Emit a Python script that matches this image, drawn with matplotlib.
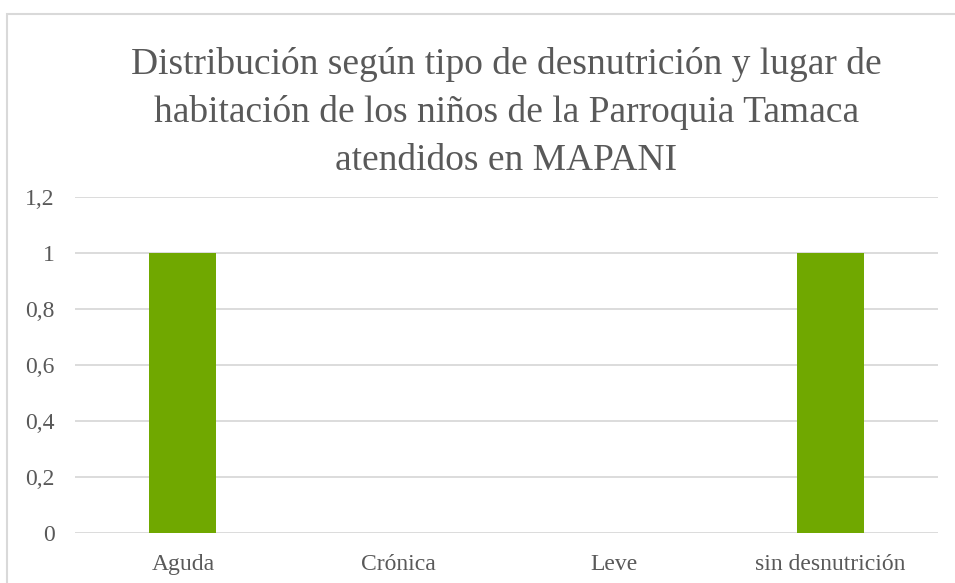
import matplotlib
matplotlib.use("Agg")
import matplotlib.pyplot as plt
from matplotlib.patches import Rectangle

categories = ["Aguda", "Crónica", "Leve", "sin desnutrición"]
values = [1, 0, 0, 1]
yticks = [0, 0.2, 0.4, 0.6, 0.8, 1.0, 1.2]
ytick_labels = ["0", "0,2", "0,4", "0,6", "0,8", "1", "1,2"]
title = ("Distribución según tipo de desnutrición y lugar de\n"
         "habitación de los niños de la Parroquia Tamaca\n"
         "atendidos en MAPANI")

plt.rcParams['font.family'] = ['Liberation Serif', 'DejaVu Serif']
W, H = 955, 583
fig = plt.figure(figsize=(W/100, H/100), dpi=100)

# outer chart border (top and left visible)
fig.add_artist(Rectangle((7/W, 0 - 0.01), 1.2, (H - 14)/H + 0.01, transform=fig.transFigure,
                         fill=False, edgecolor="#d9d9d9", linewidth=1.5))

ax = fig.add_axes([75/W, 1 - 533/H, (938-75)/W, (533-197)/H])
x = range(len(categories))
ax.bar(x, values, width=0.31, color="#70a800", zorder=3)
ax.set_xlim(-0.5, len(categories) - 0.5)
ax.set_ylim(0, 1.2)
ax.set_yticks(yticks)
ax.set_yticklabels(ytick_labels)
ax.set_xticks(list(x))
ax.set_xticklabels(categories)
ax.grid(axis="y", color="#d9d9d9", linewidth=1.3, zorder=0)
for s in ax.spines.values():
    s.set_visible(False)
ax.tick_params(axis="both", length=0, colors="#595959", labelsize=17)
ax.tick_params(axis="y", pad=14.5)
ax.tick_params(axis="x", pad=15)

fig.text(0.5 * (75 + 938) / W + 0.0, 1 - 47/H, title, ha="center", va="top",
         fontsize=27, color="#595959", linespacing=1.5)

fig.savefig("out.png", dpi=100)
